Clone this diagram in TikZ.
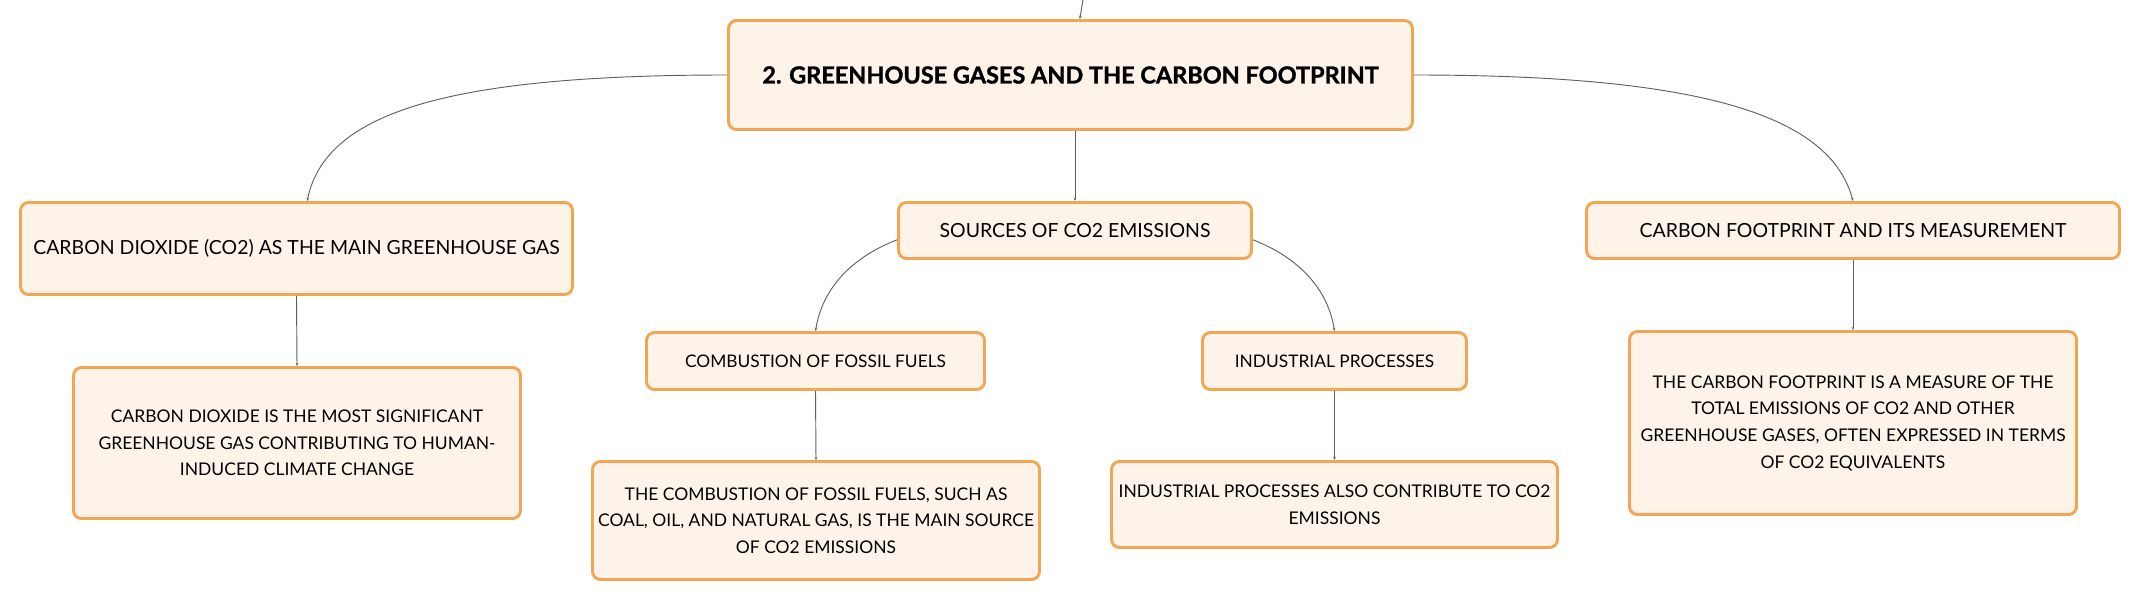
\documentclass[tikz,border=0pt]{standalone}
\usepackage{fontspec}
\setmainfont{Lato}
\newfontfamily\heavyfont{Lato}[FakeBold=1.3]
\usetikzlibrary{arrows.meta}
\definecolor{boxfill}{HTML}{FEF3E8}
\definecolor{boxline}{HTML}{F2A553}
\definecolor{wire}{HTML}{606060}

\begin{document}
\begin{tikzpicture}[x=0.75pt,y=-0.75pt]
    \tikzset{%
      box/.style={draw=boxline, fill=boxfill, line width=2.2pt,
        rounded corners=6pt, inner sep=0pt, align=center},
      title/.style={box, font=\heavyfont\bfseries\fontsize{17.6}{20}\selectfont},
      child/.style={box, font=\fontsize{14.6}{17}\selectfont},
      sub/.style={box, font=\fontsize{13}{15}\selectfont},
      leaf/.style={box, font=\fontsize{13.1}{20}\selectfont},
      link/.style={draw=wire, line width=0.7pt,
        -{Stealth[length=2.5pt,width=2pt]}},
    }
    \useasboundingbox (0,0) rectangle (2142,602);
    % top level
    \coordinate (top) at (1083,0);
    \node[title, minimum width=513pt, minimum height=81.75pt] (T) at (1070.5,75)
      {2. GREENHOUSE GASES AND THE CARBON FOOTPRINT};
    \draw[link] (top) -- (T);

    % left branch
    \node[child, minimum width=414pt, minimum height=69pt] (L) at (296.5,248.5)
      {CARBON DIOXIDE (CO2) AS THE MAIN GREENHOUSE GAS};
    \node[leaf, minimum width=335.25pt, minimum height=113.25pt] (L1) at (297,443)
      {CARBON DIOXIDE IS THE MOST SIGNIFICANT\\GREENHOUSE GAS CONTRIBUTING TO HUMAN-\\INDUCED CLIMATE CHANGE};
    \draw[link] (T.west) .. controls (440,75) and (325,115) .. ([xshift=8pt]L.north);
    \draw[link] (L.south) -- (L1.north);

    % middle branch
    \node[child, minimum width=264.75pt, minimum height=42pt] (S) at (1075,230.5)
      {SOURCES OF CO2 EMISSIONS};
    \draw[link] (T.south -| S.north) -- (S.north);
    \node[sub, minimum width=253.5pt, minimum height=42.75pt] (S1) at (815.5,361)
      {COMBUSTION OF FOSSIL FUELS};
    \node[sub, minimum width=198pt, minimum height=42.75pt] (S2) at (1334.5,361)
      {INDUSTRIAL PROCESSES};
    \draw[link] ([yshift=-7pt]S.west) .. controls (850,258) and (822,290) .. (S1.north);
    \draw[link] ([yshift=-7pt]S.east) .. controls (1300,258) and (1328,290) .. (S2.north);
    \node[leaf, minimum width=335.25pt, minimum height=88.5pt] (S1a) at (816,520.5)
      {THE COMBUSTION OF FOSSIL FUELS, SUCH AS\\COAL, OIL, AND NATURAL GAS, IS THE MAIN SOURCE\\OF CO2 EMISSIONS};
    \node[leaf, minimum width=334.5pt, minimum height=64.5pt] (S2a) at (1334.5,504.5)
      {INDUSTRIAL PROCESSES ALSO CONTRIBUTE TO CO2\\EMISSIONS};
    \draw[link] (S1.south) -- (S1a.north);
    \draw[link] (S2.south) -- (S2a.north);

    % right branch
    \node[child, minimum width=399.75pt, minimum height=42pt] (R) at (1853,230.5)
      {CARBON FOOTPRINT AND ITS MEASUREMENT};
    \node[leaf, minimum width=335.25pt, minimum height=137.25pt] (R1) at (1853,423)
      {THE CARBON FOOTPRINT IS A MEASURE OF THE\\TOTAL EMISSIONS OF CO2 AND OTHER\\GREENHOUSE GASES, OFTEN EXPRESSED IN TERMS\\OF CO2 EQUIVALENTS};
    \draw[link] (T.east) .. controls (1701,75) and (1830,115) .. (R.north);
    \draw[link] (R.south) -- (R1.north);
 \end{tikzpicture}
\end{document}
